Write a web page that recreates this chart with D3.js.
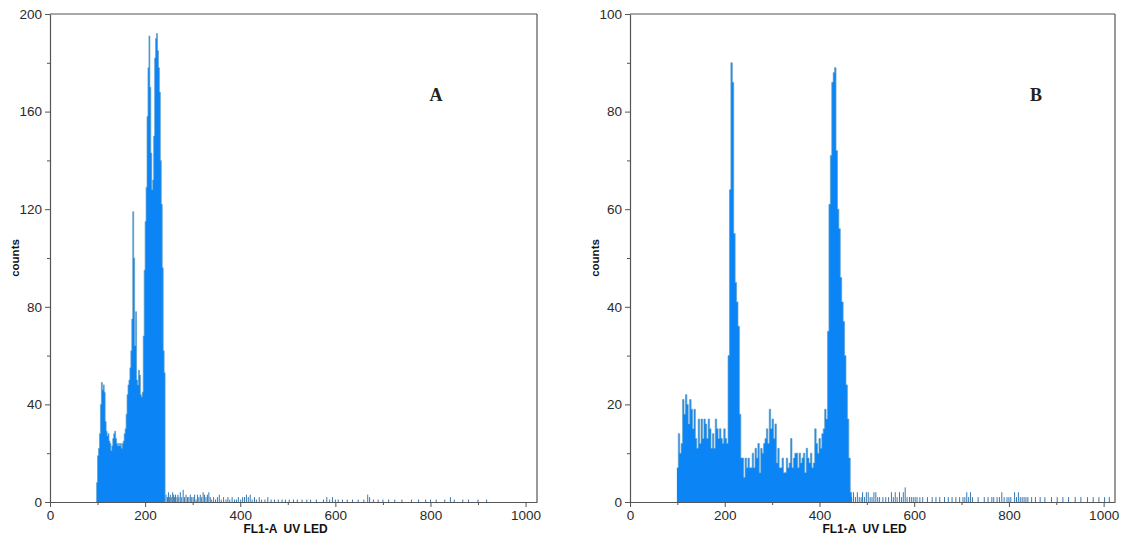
<!DOCTYPE html>
<html>
<head>
<meta charset="utf-8">
<script src="https://cdn.jsdelivr.net/npm/d3@7"></script>
<style>
  body { margin: 0; background: #fff; }
  svg { display: block; }
</style>
</head>
<body>
<script>
// Histogram A: main body, counts in bins of 2 channels starting at 96
const binStartA = 96;
const binWidthA = 2;
const countsA = [0, 8, 19, 22, 28, 40, 49, 46, 48, 45, 33, 29, 27, 28, 25, 24, 21, 23, 26, 28,
  29, 26, 24, 23, 24, 23, 24, 22, 24, 25, 28, 30, 36, 44, 48, 50, 55, 62, 75, 119,
  100, 64, 78, 50, 48, 54, 52, 44, 43, 45, 68, 95, 115, 129, 158, 178, 191, 170, 143, 128,
  132, 150, 182, 190, 192, 185, 178, 168, 140, 122, 96, 62, 53, 0];
// sparse events above the main peak: [channel, count]
const tailA = [[244,3],[247,2],[249,4],[251,2],[253,3],[256,2],[258,4],[260,3],[262,2],[264,3],
  [267,2],[269,3],[271,2],[274,4],[277,2],[280,5],[283,2],[286,3],[289,2],[292,2],[295,3],[298,2],
  [301,2],[304,3],[307,1],[310,3],[313,2],[316,3],[319,2],[322,4],[325,3],[328,2],[331,3],[334,4],
  [337,2],[340,1],[344,2],[348,1],[352,2],[356,3],[360,1],[365,2],[370,1],[374,2],[378,1],[383,2],
  [388,1],[392,1],[396,2],[401,1],[405,2],[409,2],[413,3],[417,2],[421,3],[425,1],[430,2],[434,1],
  [440,2],[445,1],[452,1],[458,2],[465,1],[472,1],[480,1],[488,1],[495,1],[503,1],[512,1],[520,1],
  [530,1],[540,1],[548,1],[560,1],[575,1],[582,2],[588,1],[594,2],[600,1],[606,1],[615,1],[625,1],
  [636,1],[648,1],[660,1],[668,3],[672,2],[680,1],[690,1],[700,1],[712,1],[725,1],[740,1],[760,1],
  [775,1],[790,1],[800,1],[812,1],[830,1],[842,2],[850,1],[868,1],[880,1],[900,1],[918,1]];

// Histogram B: main body, bins of 3 channels starting at 99
const binStartB = 99;
const binWidthB = 3;
const countsB = [7, 14, 10, 12, 21, 18, 22, 20, 16, 21, 19, 15, 19, 13, 11, 17, 12, 17, 13, 17,
  16, 13, 17, 15, 11, 14, 11, 17, 15, 13, 15, 13, 12, 15, 13, 12, 30, 64, 90, 86,
  55, 45, 41, 36, 18, 9, 9, 5, 9, 7, 9, 7, 7, 10, 7, 11, 9, 12, 6, 11,
  10, 12, 13, 15, 12, 19, 15, 17, 13, 16, 8, 11, 7, 7, 9, 6, 6, 9, 7, 8,
  13, 7, 9, 10, 10, 7, 10, 8, 9, 10, 6, 11, 9, 8, 10, 7, 8, 15, 12, 10,
  13, 11, 14, 15, 19, 17, 35, 61, 71, 86, 88, 89, 72, 60, 56, 46, 41, 37, 30, 24,
  17, 9, 2, 0];
const tailB = [[468,1],[472,2],[476,1],[480,2],[484,1],[488,1],[491,2],[495,1],[499,2],[503,2],
  [507,1],[511,1],[515,2],[519,2],[523,1],[527,1],[534,1],[540,1],[546,1],[552,2],[556,1],[560,2],
  [564,1],[569,2],[573,1],[577,2],[581,3],[585,1],[590,1],[594,1],[598,1],[602,1],[606,1],[612,1],
  [618,1],[628,1],[638,1],[646,1],[654,1],[664,1],[672,1],[680,1],[688,1],[696,1],[703,1],[707,1],
  [711,2],[715,1],[719,2],[723,1],[735,1],[748,1],[756,1],[764,1],[768,1],[775,1],[780,1],[785,2],
  [790,1],[796,1],[800,1],[804,1],[812,2],[816,1],[820,2],[824,1],[828,1],[832,1],[836,1],[840,1],
  [848,1],[856,1],[866,1],[876,1],[890,1],[902,1],[914,1],[926,1],[940,1],[952,1],[966,1],[978,1],
  [990,1],[1002,1],[1012,1]];

// Axis ticks
const xMajor = [0, 200, 400, 600, 800, 1000];
const xMinor = [100, 300, 500, 700, 900];
const yMajorA = [0, 40, 80, 120, 160, 200];
const yMinorA = [20, 60, 100, 140, 180];
const yMajorB = [0, 20, 40, 60, 80, 100];
const yMinorB = [10, 30, 50, 70, 90];

const xLabel = "FL1-A  UV LED";
const yLabel = "counts";

const svg = d3.select("body").append("svg")
  .attr("width", 1130)
  .attr("height", 543);

function drawPanel(p) {
  const x = d3.scaleLinear().domain([0, 1024]).range([p.left, p.right]);
  const y = d3.scaleLinear().domain([0, p.yMax]).range([p.bottom, p.top]);

  const g = svg.append("g");

  // main body as step area
  const pts = p.counts.map((c, i) => ({ v: p.start + i * p.width, c: c }));
  const area = d3.area()
    .curve(d3.curveStepAfter)
    .x(d => x(d.v))
    .y0(y(0))
    .y1(d => y(d.c));
  const line = d3.line()
    .curve(d3.curveStepAfter)
    .x(d => x(d.v))
    .y(d => y(d.c));

  g.append("path")
    .datum(pts)
    .attr("d", area)
    .attr("fill", "#0b84f5");
  g.append("path")
    .datum(pts)
    .attr("d", line)
    .attr("fill", "none")
    .attr("stroke", "#5f9fc6")
    .attr("stroke-width", 0.7);

  // sparse tail events
  g.selectAll(".tail")
    .data(p.tail)
    .enter().append("line")
    .attr("class", "tail")
    .attr("x1", d => x(d[0]))
    .attr("x2", d => x(d[0]))
    .attr("y1", y(0))
    .attr("y2", d => y(d[1]))
    .attr("stroke", "#3479b5")
    .attr("stroke-width", 1);

  // frame: top and right
  g.append("line")
    .attr("x1", p.left).attr("x2", p.right)
    .attr("y1", p.top).attr("y2", p.top)
    .attr("stroke", "#555").attr("stroke-width", 1.2);
  g.append("line")
    .attr("x1", p.right).attr("x2", p.right)
    .attr("y1", p.top).attr("y2", p.bottom)
    .attr("stroke", "#555").attr("stroke-width", 1.2);

  // x axis
  g.append("g")
    .attr("transform", `translate(0,${p.bottom})`)
    .call(d3.axisBottom(x).tickValues(xMajor).tickFormat(d3.format("d"))
      .tickSize(5).tickSizeOuter(0).tickPadding(3));
  g.append("g")
    .attr("transform", `translate(0,${p.bottom})`)
    .call(d3.axisBottom(x).tickValues(xMinor).tickSize(3).tickFormat(""))
    .select(".domain").remove();

  // y axis
  g.append("g")
    .attr("transform", `translate(${p.left},0)`)
    .call(d3.axisLeft(y).tickValues(p.yMajor).tickFormat(d3.format("d"))
      .tickSize(5).tickSizeOuter(0).tickPadding(3));
  g.append("g")
    .attr("transform", `translate(${p.left},0)`)
    .call(d3.axisLeft(y).tickValues(p.yMinor).tickSize(3).tickFormat(""))
    .select(".domain").remove();

  g.selectAll(".domain").attr("stroke", "#555").attr("stroke-width", 1.2);
  g.selectAll(".tick line").attr("stroke", "#555");
  g.selectAll(".tick text")
    .attr("fill", "#2a2a2a")
    .style("font-family", "'Liberation Sans', Arial, sans-serif")
    .style("font-size", "13.5px");

  // axis titles
  g.append("text")
    .attr("x", (p.left + p.right) / 2 - 8)
    .attr("y", 533)
    .attr("text-anchor", "middle")
    .style("white-space", "pre")
    .style("font-family", "'Liberation Sans', Arial, sans-serif")
    .style("font-size", "12px")
    .style("font-weight", "bold")
    .attr("fill", "#111")
    .text(xLabel);

  g.append("text")
    .attr("transform", `translate(${p.left - 31},${(p.top + p.bottom) / 2}) rotate(-90)`)
    .attr("text-anchor", "middle")
    .style("font-family", "'Liberation Sans', Arial, sans-serif")
    .style("font-size", "11.5px")
    .style("font-weight", "bold")
    .attr("fill", "#111")
    .text(yLabel);

  // panel letter
  g.append("text")
    .attr("x", p.letterX)
    .attr("y", 101)
    .attr("text-anchor", "middle")
    .style("font-family", "'Liberation Serif', 'Times New Roman', serif")
    .style("font-size", "18px")
    .style("font-weight", "bold")
    .attr("fill", "#222")
    .text(p.letter);
}

drawPanel({
  left: 50, right: 537, top: 14, bottom: 502, yMax: 200,
  counts: countsA, start: binStartA, width: binWidthA, tail: tailA,
  yMajor: yMajorA, yMinor: yMinorA, letter: "A", letterX: 436
});

drawPanel({
  left: 630, right: 1115, top: 14, bottom: 502, yMax: 100,
  counts: countsB, start: binStartB, width: binWidthB, tail: tailB,
  yMajor: yMajorB, yMinor: yMinorB, letter: "B", letterX: 1036
});
</script>
</body>
</html>
